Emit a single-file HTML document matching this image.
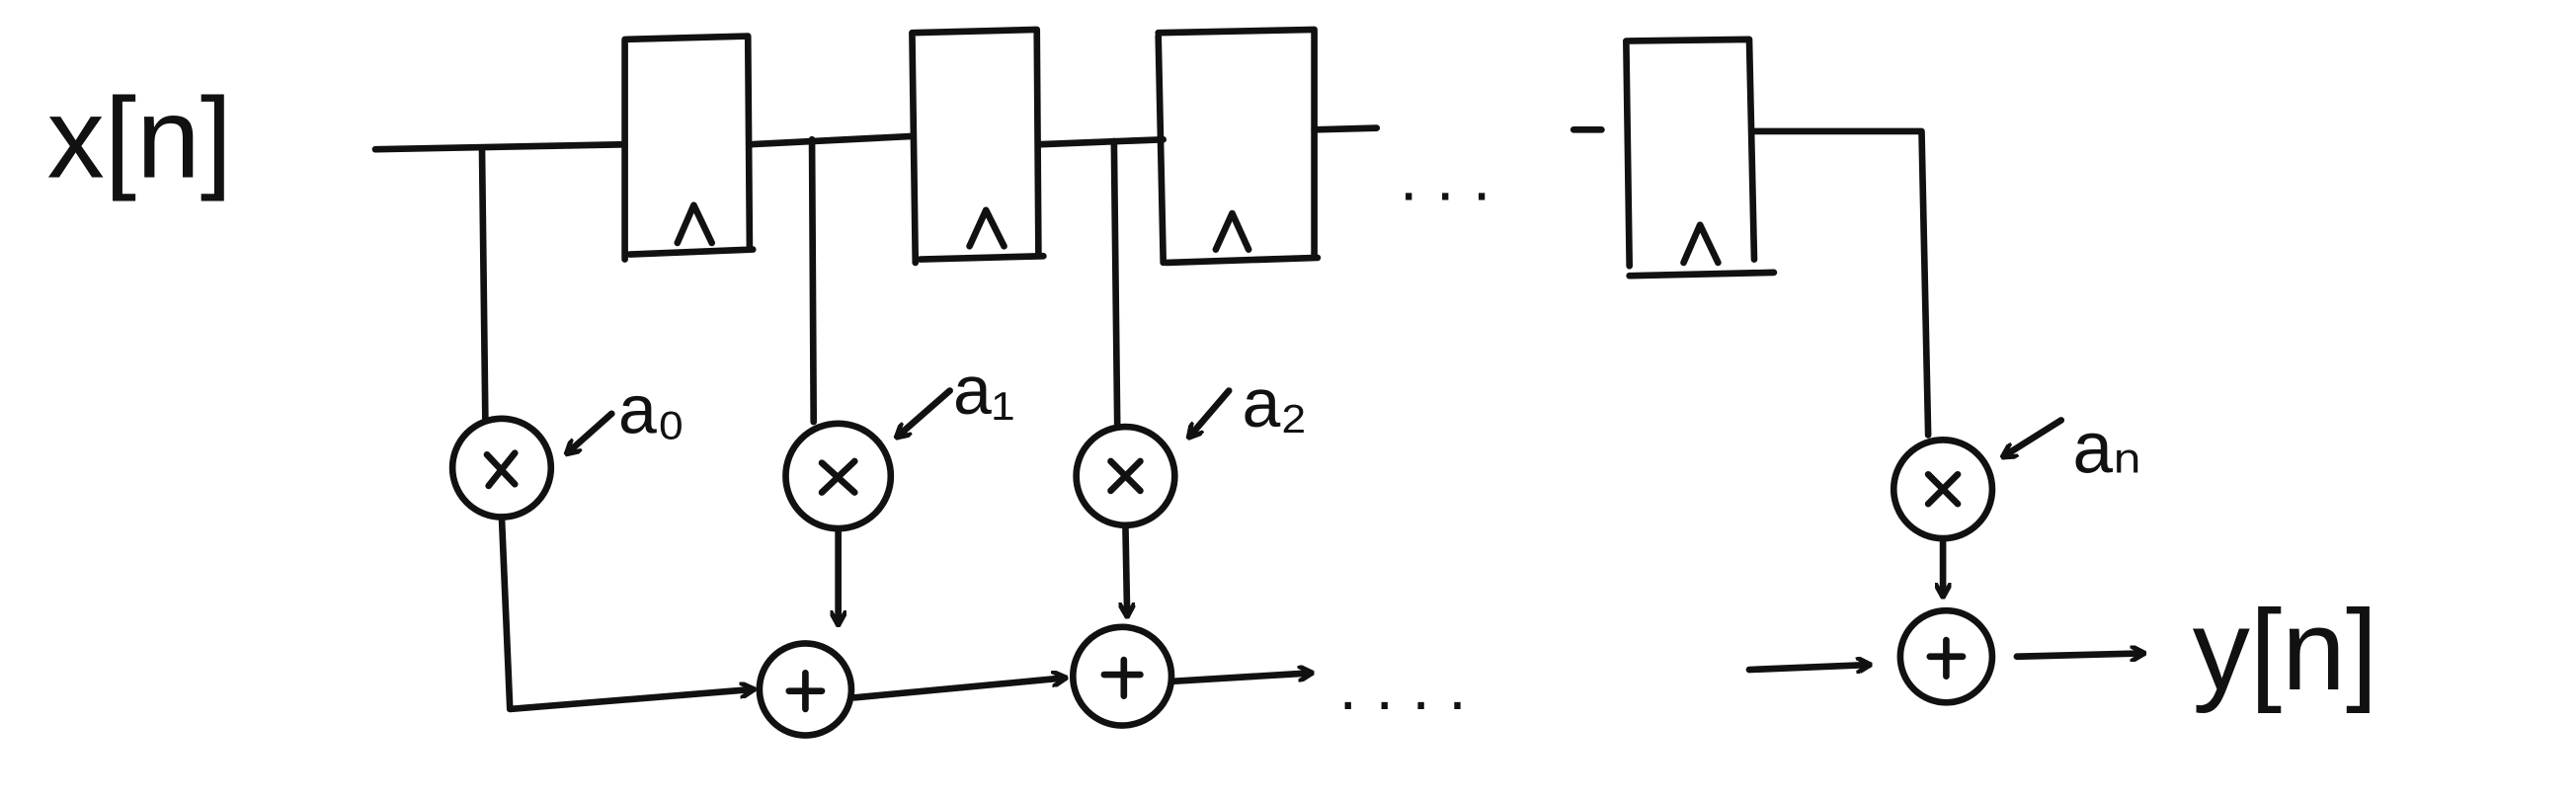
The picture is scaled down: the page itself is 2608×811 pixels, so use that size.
<!DOCTYPE html>
<html><head><meta charset="utf-8"><style>
html,body{margin:0;padding:0;background:#fff;}
svg{display:block}
text{font-family:"Liberation Sans",sans-serif;fill:#111}
</style></head><body>
<svg width="2608" height="811" viewBox="0 0 1568 488" xmlns="http://www.w3.org/2000/svg">
<defs><marker id="ah" markerWidth="10" markerHeight="10" refX="8" refY="5" orient="auto" markerUnits="userSpaceOnUse"><path d="M0,0 L9,5 L0,10" fill="none" stroke="#111" stroke-width="3"/></marker></defs>
<g stroke="#111" stroke-width="4" fill="none" stroke-linecap="round" stroke-linejoin="round">
<text x="28" y="108" font-size="70" stroke="none">x[n]</text>
<path d="M228,91 L380,88"/>
<g><path d="M380,25 L380,158 M380,24 L455,22 L456,150 M383,155 L458,152 M412,148 L422,125 L433,148"/></g>
<path d="M456,88 L555,83"/>
<g><path d="M555,20 L557,160 M555,20 L631,18 L632,155 M560,158 L635,156 M590,150 L600,128 L611,150"/></g>
<path d="M632,88 L708,85"/>
<g><path d="M705,22 L708,160 M705,20 L800,18 L800,156 M710,160 L802,157 M740,152 L750,130 L760,152"/></g>
<path d="M800,79 L838,78"/>
<text x="852" y="122" font-size="40" stroke="none">. . .</text>
<path d="M958,79 L975,79"/>
<g><path d="M990,25 L992,162 M990,25 L1065,24 L1068,158 M992,168 L1080,166 M1025,160 L1035,137 L1046,160"/></g>
<path d="M1068,80 L1170,80 L1174,265"/>
<path d="M293,92 L295,255"/>
<g><circle cx="305" cy="285" r="30"/><path d="M296,277 L313,295 M313,276 L297,296"/></g>
<path d="M372,252 L345,276" marker-end="url(#ah)"/>
<text x="376" y="264" font-size="42" stroke="none">a₀</text>
<path d="M494,85 L495,257"/>
<g><circle cx="510" cy="290" r="32"/><path d="M500,282 L520,300 M520,281 L500,300"/></g>
<path d="M578,238 L546,266" marker-end="url(#ah)"/>
<text x="580" y="252" font-size="42" stroke="none">a₁</text>
<path d="M678,86 L680,258"/>
<g><circle cx="685" cy="290" r="30"/><path d="M676,281 L694,299 M694,281 L676,299"/></g>
<path d="M748,238 L724,266" marker-end="url(#ah)"/>
<text x="756" y="260" font-size="42" stroke="none">a₂</text>
<g><circle cx="1183" cy="298" r="30"/><path d="M1174,289 L1192,307 M1192,289 L1174,307"/></g>
<path d="M1255,256 L1220,278" marker-end="url(#ah)"/>
<text x="1262" y="288" font-size="44" stroke="none">aₙ</text>
<path d="M305,315 L310,432 L458,420" marker-end="url(#ah)"/>
<path d="M510,323 L510,380" marker-end="url(#ah)"/>
<g><circle cx="490" cy="420" r="28"/><path d="M490,410 L490,432 M480,421 L500,421"/></g>
<path d="M520,425 L648,413" marker-end="url(#ah)"/>
<path d="M685,322 L686,375" marker-end="url(#ah)"/>
<g><circle cx="683" cy="412" r="30"/><path d="M684,402 L684,424 M672,411 L694,411"/></g>
<path d="M715,415 L798,410" marker-end="url(#ah)"/>
<text x="815" y="432" font-size="40" stroke="none">. . . .</text>
<path d="M1065,408 L1138,405" marker-end="url(#ah)"/>
<path d="M1183,330 L1183,363" marker-end="url(#ah)"/>
<g><circle cx="1185" cy="400" r="28"/><path d="M1185,390 L1185,412 M1175,400 L1195,400"/></g>
<path d="M1228,400 L1305,398" marker-end="url(#ah)"/>
<text x="1335" y="420" font-size="70" stroke="none">y[n]</text>
</g>
</svg>
</body></html>
